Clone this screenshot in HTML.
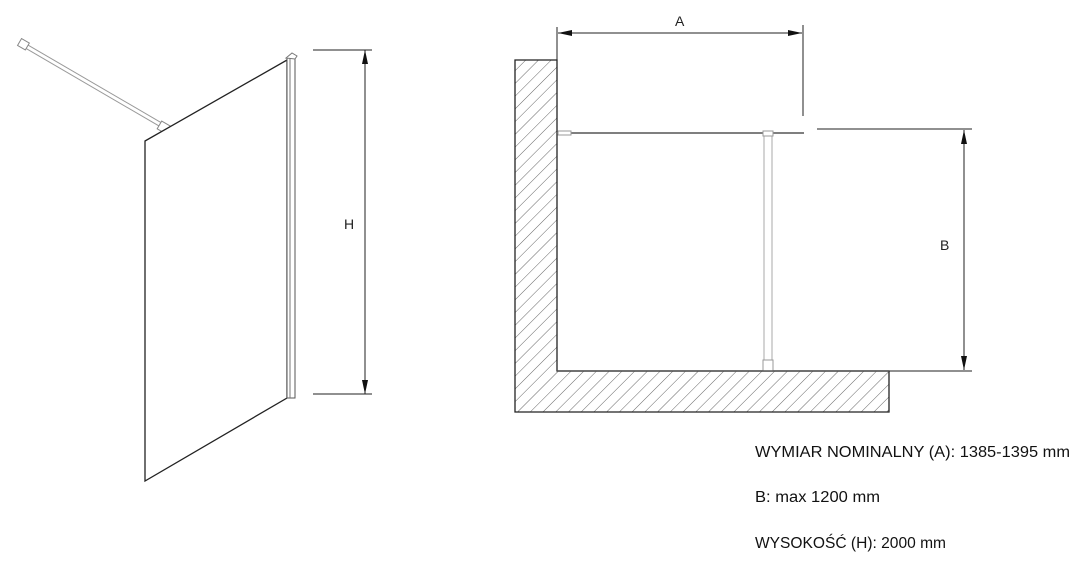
<!DOCTYPE html><html><head><style>body{margin:0;background:#fff}svg{display:block}</style></head><body>
<svg width="1081" height="568" viewBox="0 0 1081 568" xmlns="http://www.w3.org/2000/svg" font-family="Liberation Sans, sans-serif">
<defs>
<pattern id="h" patternUnits="userSpaceOnUse" width="9" height="9" patternTransform="rotate(45)">
<line x1="0" y1="0" x2="0" y2="9" stroke="#555" stroke-width="0.9"/></pattern>
<marker id="ar" markerWidth="14" markerHeight="6" refX="14" refY="3" orient="auto" markerUnits="userSpaceOnUse"><path d="M0,0 L14,3 L0,6z" fill="#111"/></marker>
<marker id="al" markerWidth="14" markerHeight="6" refX="0" refY="3" orient="auto" markerUnits="userSpaceOnUse"><path d="M14,0 L0,3 L14,6z" fill="#111"/></marker>
</defs>
<line x1="24" y1="45" x2="163" y2="126" stroke="#999" stroke-width="5"/>
<line x1="24" y1="45" x2="163" y2="126" stroke="#fff" stroke-width="3"/>
<rect x="19" y="40" width="9" height="8" fill="#fff" stroke="#888" stroke-width="1" transform="rotate(30 23 44)"/>
<rect x="159" y="123" width="10" height="9" fill="#fff" stroke="#888" stroke-width="1" transform="rotate(30 164 127)"/>
<polygon points="145,141 287,60 287,398 145,481" fill="#fff" stroke="#222" stroke-width="1.3"/>
<rect x="287" y="58" width="8" height="340" fill="#fff" stroke="#555" stroke-width="1"/>
<line x1="290" y1="58" x2="290" y2="398" stroke="#777"/>
<polygon points="286,58 292,53 297,56 295,59" fill="#fff" stroke="#777"/>
<line x1="313" y1="50" x2="372" y2="50" stroke="#222"/>
<line x1="313" y1="394" x2="372" y2="394" stroke="#222"/>
<line x1="365" y1="50" x2="365" y2="394" stroke="#222" marker-start="url(#al)" marker-end="url(#ar)"/>
<text x="344" y="229" font-size="14" fill="#222">H</text>
<polygon points="515,60 557,60 557,371 889,371 889,412 515,412" fill="url(#h)" stroke="#222" stroke-width="1.3"/>
<line x1="557" y1="27" x2="557" y2="60" stroke="#222"/>
<line x1="803" y1="25" x2="803" y2="116" stroke="#222"/>
<line x1="558" y1="33" x2="802" y2="33" stroke="#222" marker-start="url(#al)" marker-end="url(#ar)"/>
<text x="675" y="26" font-size="14" fill="#222">A</text>
<line x1="557" y1="133" x2="804" y2="133" stroke="#555" stroke-width="1.5"/>
<rect x="558" y="131" width="13" height="4" fill="#fff" stroke="#999"/>
<rect x="764" y="131" width="8" height="240" fill="#fff" stroke="#aaa"/>
<rect x="763" y="131" width="10" height="5" fill="#fff" stroke="#999"/>
<rect x="763" y="360" width="10" height="11" fill="#fff" stroke="#999"/>
<line x1="817" y1="129" x2="972" y2="129" stroke="#222"/>
<line x1="889" y1="371" x2="972" y2="371" stroke="#222"/>
<line x1="557" y1="371" x2="889" y2="371" stroke="#555" stroke-width="1.5"/>
<line x1="964" y1="130" x2="964" y2="370" stroke="#222" marker-start="url(#al)" marker-end="url(#ar)"/>
<text x="940" y="250" font-size="14" fill="#222">B</text>
<g font-size="15.5" fill="#111">
<text x="755" y="457" textLength="315" lengthAdjust="spacingAndGlyphs">WYMIAR NOMINALNY (A): 1385-1395 mm</text>
<text x="755" y="502" textLength="125" lengthAdjust="spacingAndGlyphs">B: max 1200 mm</text>
<text x="755" y="548" textLength="191" lengthAdjust="spacingAndGlyphs">WYSOKOŚĆ (H): 2000 mm</text>
</g>
</svg></body></html>
